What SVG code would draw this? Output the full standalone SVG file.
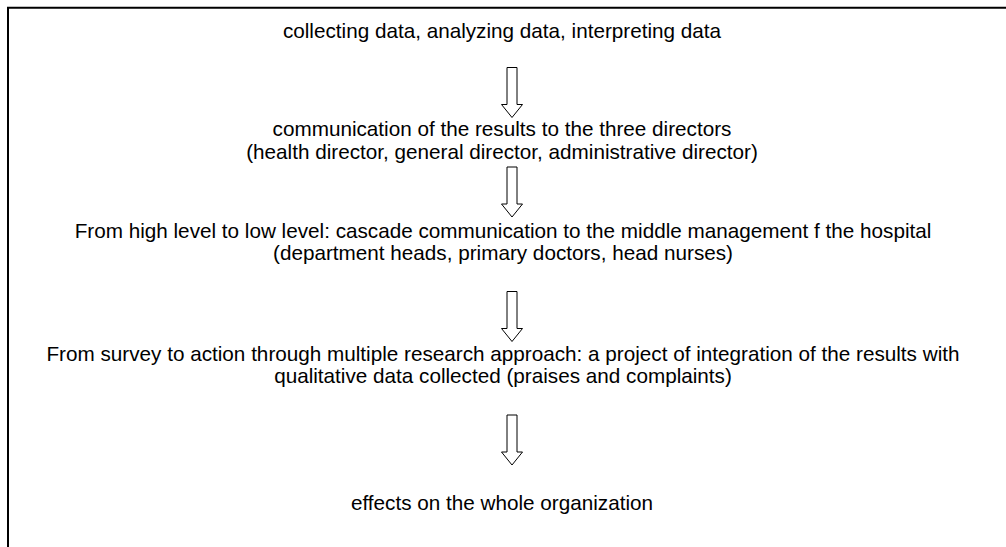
<svg xmlns="http://www.w3.org/2000/svg" width="1006" height="547" viewBox="0 0 1006 547">
  <style>
    .t { font-family: "Liberation Sans", Arial, sans-serif; font-size: 20.7px; fill: #000; text-anchor: middle; }
    .arrow { fill: #fff; stroke: #000; stroke-width: 1; }
    .frame { fill: none; stroke: #000; stroke-width: 2; }
  </style>
  <defs>
    <path id="blockArrow" d="M-5,0 H5 V37 H10.5 L0,50 L-10.5,37 H-5 Z"/>
  </defs>
  <rect width="1006" height="547" fill="#fff"/>
  <path class="frame" d="M8,547 V7.7 H1006"/>

  <g id="node-collecting">
    <text class="t" x="502" y="38">collecting data, analyzing data, interpreting data</text>
  </g>
  <g id="node-communication">
    <text class="t" x="502" y="136">communication of the results to the three directors</text>
    <text class="t" x="502" y="159">(health director, general director, administrative director)</text>
  </g>
  <g id="node-cascade">
    <text class="t" x="503" y="238">From high level to low level: cascade communication to the middle management f the hospital</text>
    <text class="t" x="503" y="260">(department heads, primary doctors, head nurses)</text>
  </g>
  <g id="node-survey">
    <text class="t" x="503" y="361">From survey to action through multiple research approach: a project of integration of the results with</text>
    <text class="t" x="503" y="383">qualitative data collected (praises and complaints)</text>
  </g>
  <g id="node-effects">
    <text class="t" x="502" y="510">effects on the whole organization</text>
  </g>

  <g id="connectors">
    <use href="#blockArrow" class="arrow" x="512" y="67.5"/>
    <use href="#blockArrow" class="arrow" x="512" y="167"/>
    <use href="#blockArrow" class="arrow" x="512" y="291.5"/>
    <use href="#blockArrow" class="arrow" x="512" y="415"/>
  </g>
</svg>
